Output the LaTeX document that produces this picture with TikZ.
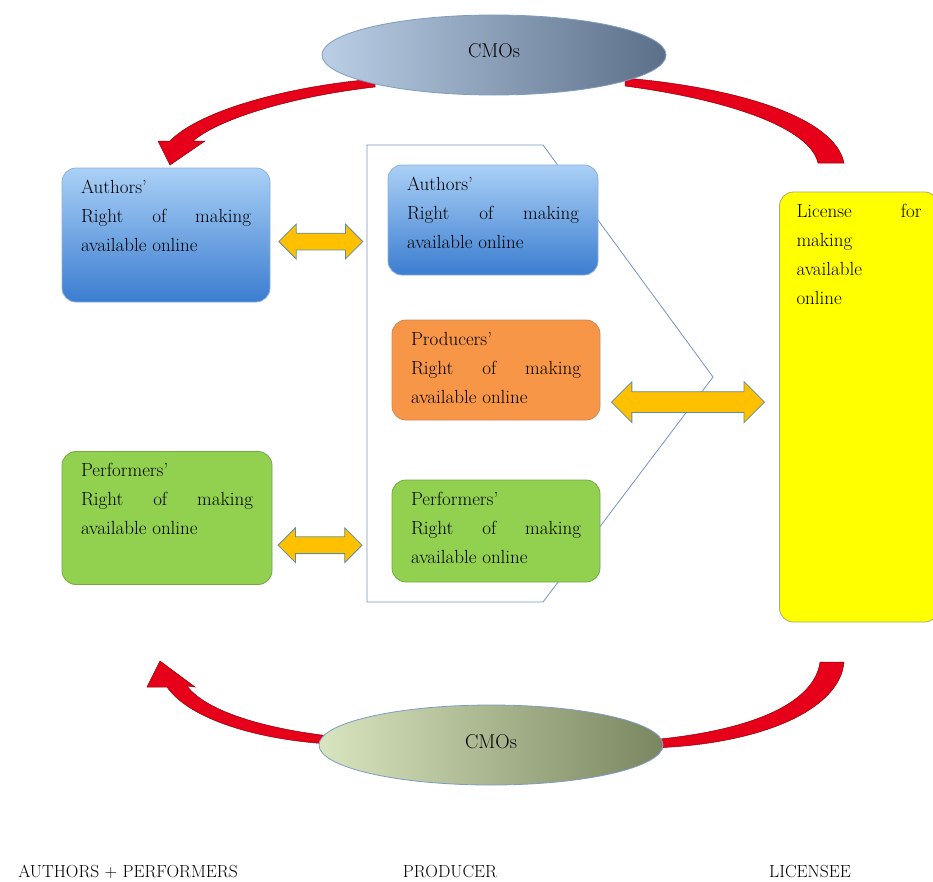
\documentclass[tikz,border=0pt]{standalone}
\usepackage{tikz}
\usetikzlibrary{shapes.geometric,shapes.arrows,calc,positioning}

\definecolor{cmoblueL}{HTML}{BACEE6}
\definecolor{cmoblueR}{HTML}{5C6F88}
\definecolor{cmogreenL}{HTML}{D9E5BE}
\definecolor{cmogreenR}{HTML}{7A8660}
\definecolor{cmoedge}{HTML}{7F9CC0}
\definecolor{blueT}{HTML}{AAD0F6}
\definecolor{blueB}{HTML}{3B7DD0}
\definecolor{blueedge}{HTML}{8DB0DC}
\definecolor{prodorange}{HTML}{F79646}
\definecolor{prodedge}{HTML}{C98A5A}
\definecolor{perfgreen}{HTML}{92D050}
\definecolor{perfedge}{HTML}{74A845}
\definecolor{licyellow}{HTML}{FFFF00}
\definecolor{licedge}{HTML}{A8A870}
\definecolor{arrfill}{HTML}{FFC000}
\definecolor{arredge}{HTML}{5E8E9E}
\definecolor{cmored}{HTML}{E6001A}
\definecolor{penline}{HTML}{7393C8}

% text of a box: height, width, lines
\newcommand{\cell}[3]{\parbox[c][#1][t]{#2}{#3}}

\begin{document}
\begin{tikzpicture}[x=1pt,y=-1pt,
  every node/.style={font=\fontsize{19}{29}\selectfont, text=black},
  rbox/.style={draw, rounded corners=14pt, inner xsep=19pt, inner ysep=12pt, line width=0.8pt},
  authbox/.style={rbox, top color=blueT, bottom color=blueB, draw=blueedge},
  prodbox/.style={rbox, fill=prodorange, draw=prodedge},
  perfbox/.style={rbox, fill=perfgreen, draw=perfedge},
  licbox/.style={rbox, inner xsep=17pt, fill=licyellow, draw=licedge},
  cmo/.style={ellipse, draw=cmoedge, line width=0.8pt, minimum width=344pt, minimum height=80pt,
    font=\fontsize{20}{24}\selectfont},
  dblarr/.style={double arrow, draw=arredge, fill=arrfill, line width=0.8pt,
    inner sep=8pt, double arrow head extend=9pt},
  redarr/.style={fill=cmored, draw=red!55!black, line width=0.5pt},
  party/.style={font=\fontsize{17.5}{20}\selectfont}]

\useasboundingbox (0,0) rectangle (933,881);

% frame round the producer's rights
\draw[penline, line width=0.8pt] (367,145) -- (543,145) -- (713,377) -- (543,602) -- (367,602) -- cycle;

% red circuit arrows
\draw[redarr] (375,79) .. controls (290,86) and (200,110) .. (170,141) -- (158,141) -- (170,165)
  -- (205,141) -- (193,141) .. controls (220,118) and (295,96) .. (375,87) -- cycle;
\draw[redarr] (625,78) .. controls (740,88) and (835,118) .. (844,163) -- (818,163)
  .. controls (810,128) and (730,100) .. (625,86) -- cycle;
\draw[redarr] (330,736) .. controls (260,728) and (205,710) .. (187,686) -- (195,687) -- (160,661)
  -- (147,687) -- (167,687) .. controls (190,720) and (260,740) .. (330,744) -- cycle;
\draw[redarr] (650,740) .. controls (760,730) and (815,700) .. (820,662) -- (844,662)
  .. controls (840,710) and (760,745) .. (650,748) -- cycle;

\node[cmo, left color=cmoblueL, right color=cmoblueR] (cmotop) at (494,55) {\raisebox{8pt}{CMOs}};
\node[cmo, left color=cmogreenL, right color=cmogreenR] (cmobot) at (491,745) {\raisebox{8pt}{CMOs}};

\node[authbox] (la) at (166,235) {\cell{110pt}{170pt}{Authors'\\Right\hfill of\hfill making\\available online}};
\node[perfbox] (lp) at (167,518) {\cell{109pt}{172pt}{Performers'\\Right\hfill of\hfill making\\available online}};
\node[authbox] (ma) at (493,220) {\cell{86pt}{172pt}{Authors'\\Right\hfill of\hfill making\\available online}};
\node[prodbox] (mp) at (496,370) {\cell{76pt}{170pt}{Producers'\\Right\hfill of\hfill making\\available online}};
\node[perfbox] (mf) at (496,531) {\cell{78pt}{170pt}{Performers'\\Right\hfill of\hfill making\\available online}};
\node[licbox] (lic) at (859,407) {\cell{406pt}{125pt}{License\hfill for\\making\\available\\online}};

\node[dblarr, minimum height=84pt] (ar1) at ($(la.east)!0.43!(ma.west)+(0,13)$) {};
\node[dblarr, minimum height=84pt] (ar2) at ($(lp.east)!0.4!(mf.west)+(0,22)$) {};
\node[dblarr, minimum height=153pt, inner sep=10pt, double arrow head extend=10pt] (ar3)
  at ($(mp.east)!0.49!(lic.west)+(0,14)$) {};

\node[party] (pa) at (128,872) {AUTHORS + PERFORMERS};
\node[party] (pp) at (450,872) {PRODUCER};
\node[party] (pl) at (810,872) {LICENSEE};
\end{tikzpicture}
\end{document}
